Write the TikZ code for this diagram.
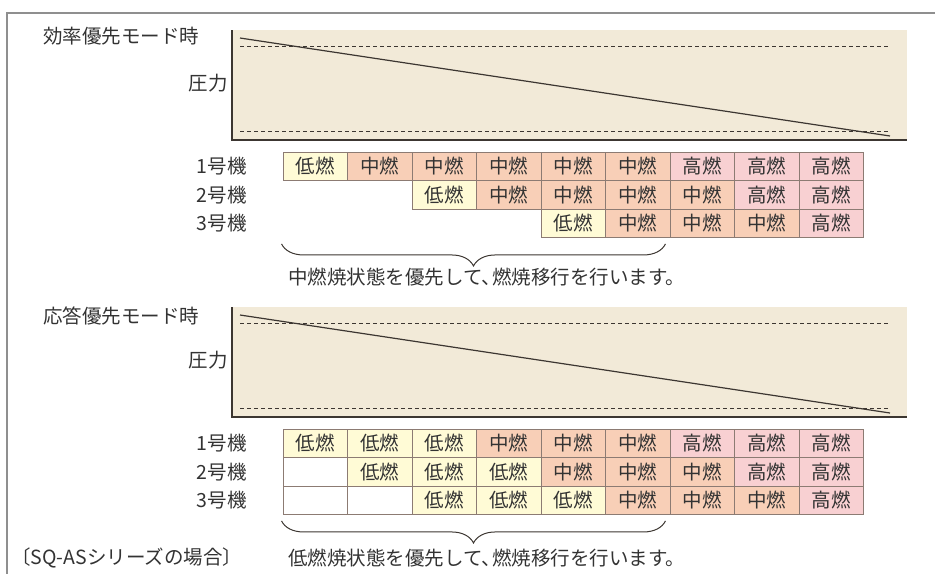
\documentclass[tikz,border=0pt]{standalone}
\usepackage{fontspec}
\setmainfont{Noto Sans CJK JP}
\usetikzlibrary{%
    calc,
    decorations.pathreplacing,
    positioning
}
\definecolor{chartfill}{HTML}{F2EAD8}
\definecolor{lowfill}{HTML}{FFFBD6}
\definecolor{midfill}{HTML}{F8CFB7}
\definecolor{highfill}{HTML}{F8D0D2}
\definecolor{cellline}{HTML}{8C7B73}
\definecolor{axisline}{HTML}{3C3631}
\definecolor{framegray}{HTML}{8F8F8F}
\definecolor{textgray}{HTML}{333333}
\tikzset{curly/.style = {decorate, decoration={brace, amplitude=22pt, mirror}, line width=1pt, draw=axisline}}

\begin{document}
\begin{tikzpicture}[
    x=1pt, y=-1pt,
    every node/.style = {font=\fontsize{19.5pt}{23pt}\selectfont, text=textgray},
    words/.style = {inner sep=0pt},
    cell/.style = {draw=cellline, line width=.9pt, minimum width=64.5pt,
        minimum height=28.5pt, inner sep=0pt},
    lowcell/.style = {cell, fill=lowfill, node contents=低燃},
    midcell/.style = {cell, fill=midfill, node contents=中燃},
    highcell/.style = {cell, fill=highfill, node contents=高燃},
    blankcell/.style = {cell, fill=white, node contents={}},
    axis/.style = {line width=1.2pt, draw=axisline},
    limit/.style = {line width=1pt, draw=axisline, dash pattern=on 4pt off 3pt},
    pressure/.style = {line width=1.2pt, draw=axisline}]
    \useasboundingbox (0,0) rectangle (935,574);
    \draw[framegray, line width=1.5pt] (935,13) -- (7,13) -- (7,574);

    \foreach \dy in {0,277} {
        \fill[chartfill] (232,{30+\dy}) rectangle (907,{140+\dy});
        \draw[limit] (240,{46+\dy}) -- (890,{46+\dy});
        \draw[limit] (240,{131+\dy}) -- (890,{131+\dy});
        \draw[pressure] (240,{38+\dy}) -- (890,{136+\dy});
        \draw[axis] (232,{30+\dy}) -- (232,{140+\dy}) -- (907,{140+\dy});
        \node[words, anchor=east] (force\dy) at (228,{83+\dy}) {圧力};
    }
    \node[words, anchor=west] (mode1) at (43,36) {効率優先モード時};
    \node[words, anchor=west] (mode2) at (43,316) {応答優先モード時};

    \foreach \kind [count=\col] in {lowcell,midcell,midcell,midcell,midcell,midcell,highcell,highcell,highcell}
        \node (a-1-\col) at ({250.75+64.5*\col},166.25) [\kind];
    \foreach \kind [count=\col from 3] in {lowcell,midcell,midcell,midcell,midcell,highcell,highcell}
        \node (a-2-\col) at ({250.75+64.5*\col},194.75) [\kind];
    \foreach \kind [count=\col from 5] in {lowcell,midcell,midcell,midcell,highcell}
        \node (a-3-\col) at ({250.75+64.5*\col},223.25) [\kind];

    \foreach \kind [count=\col] in {lowcell,lowcell,lowcell,midcell,midcell,midcell,highcell,highcell,highcell}
        \node (b-1-\col) at ({250.75+64.5*\col},443.25) [\kind];
    \foreach \kind [count=\col] in {blankcell,lowcell,lowcell,lowcell,midcell,midcell,midcell,highcell,highcell}
        \node (b-2-\col) at ({250.75+64.5*\col},471.75) [\kind];
    \foreach \kind [count=\col] in {blankcell,blankcell,lowcell,lowcell,lowcell,midcell,midcell,midcell,highcell}
        \node (b-3-\col) at ({250.75+64.5*\col},500.25) [\kind];

    \foreach \n/\y in {1/166,2/195,3/223}
        \node[words, anchor=east] (a-unit\n) at (247,\y) {\n{}号機};
    \foreach \n/\y in {1/443,2/472,3/500}
        \node[words, anchor=east] (b-unit\n) at (247,\y) {\n{}号機};

    \draw[curly] ($(a-1-1.west |- a-3-6.south)+(-1,6)$) to ($(a-3-6.south east)+(-5,6)$);
    \draw[curly] ($(b-3-1.south west)+(-1,6)$) to ($(b-3-6.south east)+(-5,6)$);

    \node[words, anchor=west] (gist1) at (288,277) {中燃焼状態を優先して、\kern-.45em燃焼移行を行います。};
    \node[words, anchor=west] (gist2) at (288,558) {低燃焼状態を優先して、\kern-.45em燃焼移行を行います。};
    \node[words, anchor=west] (series) at (11,558) {〔SQ-ASシリーズの場合〕};
\end{tikzpicture}
\end{document}
